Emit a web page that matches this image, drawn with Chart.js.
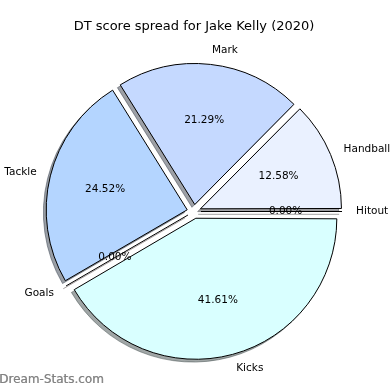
<!DOCTYPE html>
<html>
<head>
<meta charset="utf-8">
<script src="https://cdn.jsdelivr.net/npm/chart.js@4"></script>
<style>
  html, body { margin: 0; padding: 0; background: #fff; }
  #wrap { width: 390px; height: 390px; position: relative; }
</style>
</head>
<body>
<div id="wrap"><canvas id="pie-chart" width="390" height="390"></canvas></div>
<script>
// DT points per stat, matplotlib order (counter-clockwise from 3 o'clock)
const categories = ['Handball', 'Mark', 'Tackle', 'Goals', 'Kicks', 'Hitout'];
const dtPoints = [78, 132, 152, 0, 258, 0];
const sliceColors = ['#eaf1ff', '#c5d9ff', '#b4d5ff', '#ffd9d9', '#d9ffff', '#e6e6e6'];

// Chart.js goes clockwise, so feed it reversed
const labelsCw = categories.slice().reverse();
const valuesCw = dtPoints.slice().reverse();
const colorsCw = sliceColors.slice().reverse();

const total = dtPoints.reduce((a, b) => a + b, 0);
const EXPLODE = 7;      // px, like explode in matplotlib
const SHADOW = 2.8;     // px shadow shift (left / down)
const BASE_R = 141;

function shadowColor(hex) {
    const r = parseInt(hex.slice(1, 3), 16) * 0.3;
    const g = parseInt(hex.slice(3, 5), 16) * 0.3;
    const b = parseInt(hex.slice(5, 7), 16) * 0.3;
    return 'rgba(' + r + ',' + g + ',' + b + ',0.5)';
}

const pieExtras = {
    id: 'pieExtras',
    beforeDatasetsDraw(chart) {
        const ctx = chart.ctx;
        const meta = chart.getDatasetMeta(0);
        meta.data.forEach((el, i) => {
            const circ = el.endAngle - el.startAngle;
            // cancel the radius growth chart.js adds to narrow offset arcs
            const fix = 1 - Math.sin(Math.min(Math.PI, circ));
            el.outerRadius = BASE_R - EXPLODE * fix;
            const sc = shadowColor(colorsCw[i]);
            ctx.save();
            ctx.translate(-SHADOW, SHADOW);
            if (circ > 0) {
                const fake = Object.create(el);
                fake.options = Object.assign({}, el.options, { backgroundColor: sc, borderColor: sc });
                fake.draw(ctx);
            } else {
                const a = el.startAngle;
                const ox = el.x + Math.cos(a) * EXPLODE, oy = el.y + Math.sin(a) * EXPLODE;
                ctx.strokeStyle = sc;
                ctx.lineWidth = 1;
                ctx.beginPath();
                ctx.moveTo(ox, oy);
                ctx.lineTo(ox + Math.cos(a) * BASE_R, oy + Math.sin(a) * BASE_R);
                ctx.stroke();
            }
            ctx.restore();
        });
    },
    afterDatasetsDraw(chart) {
        const ctx = chart.ctx;
        const meta = chart.getDatasetMeta(0);
        meta.data.forEach((el, i) => {
            const a = (el.startAngle + el.endAngle) / 2;
            const ox = el.x + Math.cos(a) * EXPLODE, oy = el.y + Math.sin(a) * EXPLODE;
            if (el.endAngle - el.startAngle === 0) {
                ctx.save();
                ctx.strokeStyle = '#000';
                ctx.lineWidth = 1;
                ctx.beginPath();
                ctx.moveTo(ox, oy);
                ctx.lineTo(ox + Math.cos(a) * BASE_R, oy + Math.sin(a) * BASE_R);
                ctx.stroke();
                ctx.restore();
            }
            ctx.save();
            ctx.fillStyle = '#000';
            ctx.font = '10.5px "DejaVu Sans"';
            ctx.textBaseline = 'middle';
            const lx = ox + Math.cos(a) * BASE_R * 1.1, ly = oy + Math.sin(a) * BASE_R * 1.1;
            ctx.textAlign = Math.cos(a) > 1e-9 ? 'left' : 'right';
            ctx.fillText(labelsCw[i], lx, ly);
            const pct = (valuesCw[i] / total * 100).toFixed(2) + '%';
            ctx.textAlign = 'center';
            ctx.fillText(pct, ox + Math.cos(a) * BASE_R * 0.6, oy + Math.sin(a) * BASE_R * 0.6);
            ctx.restore();
        });
        // watermark
        ctx.save();
        ctx.font = '12px "DejaVu Sans"';
        ctx.fillStyle = 'rgba(125,125,125,0.8)';
        ctx.textAlign = 'left';
        ctx.textBaseline = 'middle';
        ctx.fillText('Dream-Stats.com', -1, 380);
        ctx.fillText('Dream-Stats.com', -0.6, 380);
        ctx.restore();
    }
};

const ctx = document.getElementById('pie-chart').getContext('2d');
const chart = new Chart(ctx, {
    type: 'pie',
    data: {
        labels: labelsCw,
        datasets: [{
            data: valuesCw,
            backgroundColor: colorsCw,
            borderColor: '#000',
            borderWidth: 1,
            offset: EXPLODE * 4
        }]
    },
    options: {
        responsive: false,
        animation: false,
        rotation: 90,
        radius: BASE_R,
        layout: { padding: { top: 0, bottom: 1.6, left: 0, right: 2 } },
        plugins: {
            legend: { display: false },
            tooltip: { enabled: false },
            title: {
                display: true,
                text: 'DT score spread for Jake Kelly (2020)',
                color: '#000',
                font: { family: 'DejaVu Sans', size: 13, weight: 'normal' },
                padding: { top: 19, bottom: 0 }
            }
        }
    },
    plugins: [pieExtras]
});
</script>
</body>
</html>
